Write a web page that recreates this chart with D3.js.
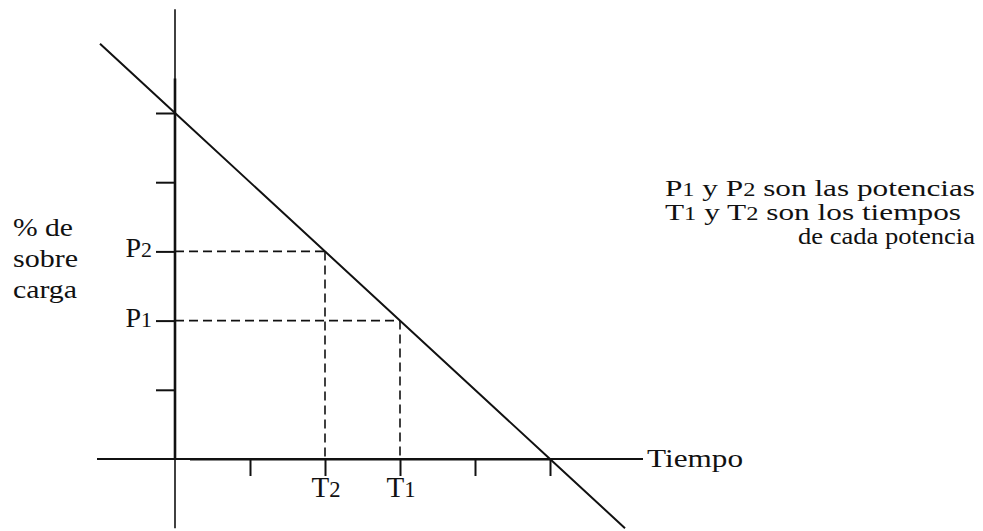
<!DOCTYPE html>
<html>
<head>
<meta charset="utf-8">
<script src="https://cdn.jsdelivr.net/npm/d3@7"></script>
<style>
  body { margin: 0; background: #fff; }
  svg { display: block; }
  text { font-family: "Liberation Serif", "Times New Roman", serif; fill: #111; }
  .axis path { display: none; }
  .axis line { stroke: #111; stroke-width: 2; }
</style>
</head>
<body>
<script>
var width = 983,
    height = 531;

// overload line: time vs % overload
var lineTime = [-1, 0, 5, 6];
var lineLoad = [6, 5, 0, -1];

// the two marked operating points
var pointNames = ["1", "2"];
var pointTime = [3, 2];
var pointLoad = [2, 3];

var tickValues = [1, 2, 3, 4, 5];

var yLabel = ["% de", "sobre", "carga"];
var xLabel = "Tiempo";
var note = [
  [["P", "1"], [" y "], ["P", "2"], [" son las potencias"]],
  [["T", "1"], [" y "], ["T", "2"], [" son los tiempos"]],
  [["de cada potencia"]]
];

var x = d3.scaleLinear().domain([0, 5]).range([175, 550]);
var y = d3.scaleLinear().domain([0, 5]).range([459, 113]);

var svg = d3.select("body").append("svg")
    .attr("width", width)
    .attr("height", height);

// axis lines, crossing at the origin
svg.append("line")
    .attr("x1", x(0)).attr("x2", x(0))
    .attr("y1", y(6.5)).attr("y2", y(-1))
    .attr("stroke", "#111").attr("stroke-width", 1.6);
svg.append("line")
    .attr("x1", x(0)).attr("x2", x(0))
    .attr("y1", y(5.5)).attr("y2", y(0))
    .attr("stroke", "#111").attr("stroke-width", 2.6);
svg.append("line")
    .attr("x1", x(-1.04)).attr("x2", x(6.24))
    .attr("y1", y(0)).attr("y2", y(0))
    .attr("stroke", "#111").attr("stroke-width", 1.8);
svg.append("line")
    .attr("x1", x(0.2)).attr("x2", x(5))
    .attr("y1", y(0) + 0.5).attr("y2", y(0) + 0.5)
    .attr("stroke", "#111").attr("stroke-width", 2.2);

// ticks
svg.append("g").attr("class", "axis")
    .attr("transform", "translate(" + x(0) + ",0)")
    .call(d3.axisLeft(y).tickValues(tickValues).tickSize(19).tickFormat(""));
svg.append("g").attr("class", "axis")
    .attr("transform", "translate(0," + y(0) + ")")
    .call(d3.axisBottom(x).tickValues(tickValues).tickSize(17).tickFormat(""));

// dashed guides
var pts = pointNames.map((n, i) => ({name: n, t: pointTime[i], p: pointLoad[i]}));
var guides = svg.append("g")
    .attr("fill", "none")
    .attr("stroke", "#111")
    .attr("stroke-width", 1.6)
    .attr("stroke-dasharray", "9,5");
guides.selectAll(".h").data(pts).enter().append("line")
    .attr("x1", x(0)).attr("x2", d => x(d.t))
    .attr("y1", d => y(d.p)).attr("y2", d => y(d.p));
guides.selectAll(".v").data(pts).enter().append("line")
    .attr("x1", d => x(d.t)).attr("x2", d => x(d.t))
    .attr("y1", d => y(d.p)).attr("y2", y(0));

// main line
var line = d3.line().x(d => x(d[0])).y(d => y(d[1]));
svg.append("path")
    .datum(lineTime.map((t, i) => [t, lineLoad[i]]))
    .attr("fill", "none")
    .attr("stroke", "#111")
    .attr("stroke-width", 2)
    .attr("d", line);

// labels with small digit
function label(sel, letter, digit) {
  sel.append("tspan").text(letter);
  if (digit) sel.append("tspan").style("font-size", "0.78em").text(digit);
}

pts.forEach(d => {
  var t = svg.append("text")
      .attr("x", x(0) - 23).attr("y", y(d.p) + 6)
      .attr("text-anchor", "end")
      .style("font-size", "28px");
  label(t, "P", d.name);
  var b = svg.append("text")
      .attr("x", x(d.t) + 1).attr("y", y(0) + 38)
      .attr("text-anchor", "middle")
      .style("font-size", "29px");
  label(b, "T", d.name);
});

svg.append("text")
    .attr("x", 647).attr("y", 467)
    .attr("textLength", 96).attr("lengthAdjust", "spacingAndGlyphs")
    .style("font-size", "26px")
    .text(xLabel);

svg.selectAll(".ylab").data(yLabel).enter().append("text")
    .attr("x", 13)
    .attr("y", (d, i) => 236 + i * 31)
    .attr("textLength", (d, i) => [60, 65, 64][i])
    .attr("lengthAdjust", "spacingAndGlyphs")
    .style("font-size", "25px")
    .text(d => d);

// note, glyphs stretched to the scanned width
var noteX = [665, 665, 798],
    noteY = [196, 220, 244],
    noteLen = [310, 296, 177],
    noteSize = [23, 23, 24];
note.forEach((parts, i) => {
  var t = svg.append("text")
      .attr("x", noteX[i]).attr("y", noteY[i])
      .attr("textLength", noteLen[i])
      .attr("lengthAdjust", "spacingAndGlyphs")
      .style("font-size", noteSize[i] + "px");
  parts.forEach(p => label(t, p[0], p[1]));
});
</script>
</body>
</html>
